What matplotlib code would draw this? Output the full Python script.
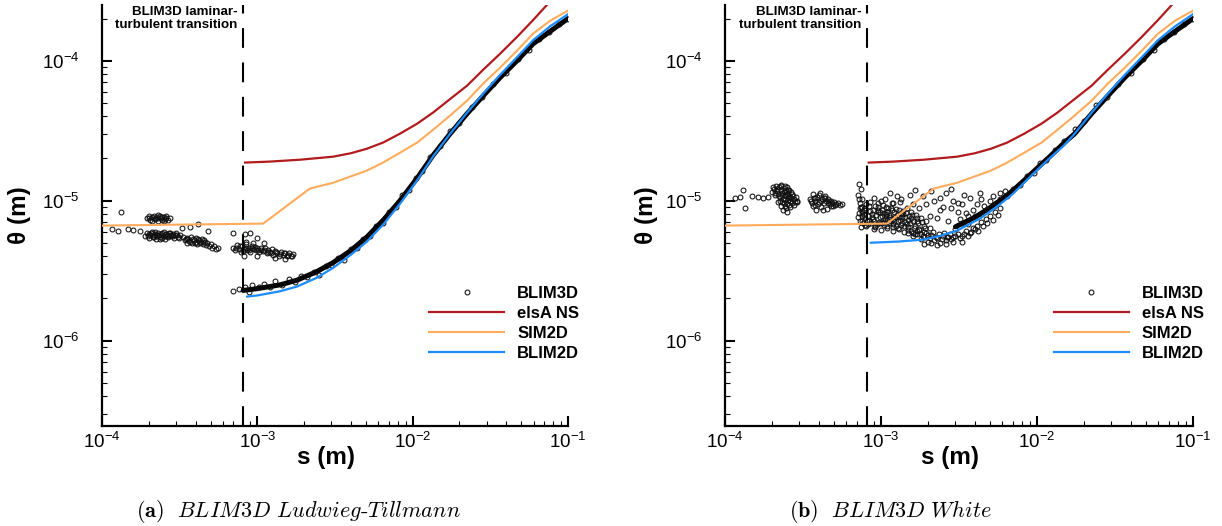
import numpy as np
import matplotlib.pyplot as plt

plt.rcParams['font.family'] = ['Liberation Sans', 'DejaVu Sans']

S_TR = 8.1e-4  # BLIM3D transition location (m)

# elsA NS and SIM2D (same in both panels)
elsa_s = [8.34e-4, 1.2e-3, 1.88e-3, 3.07e-3, 4.0e-3, 5.08e-3, 6.45e-3, 8.29e-3, 1.07e-2, 1.35e-2,
          1.69e-2, 2.24e-2, 2.84e-2, 3.65e-2, 4.7e-2, 5.96e-2, 7.33e-2]
elsa_t = [1.87e-5, 1.9e-5, 1.96e-5, 2.06e-5, 2.18e-5, 2.35e-5, 2.6e-5, 3.01e-5, 3.55e-5, 4.25e-5,
          5.18e-5, 6.63e-5, 8.6e-5, 1.12e-4, 1.48e-4, 1.95e-4, 2.51e-4]
sim2d_s = [1e-4, 1.09e-3, 2.18e-3, 3.07e-3, 5.08e-3, 6.45e-3, 8.29e-3, 1.07e-2, 1.35e-2,
           1.74e-2, 2.24e-2, 2.84e-2, 3.65e-2, 4.7e-2, 5.96e-2, 7.67e-2, 1e-1]
sim2d_t = [6.63e-6, 6.85e-6, 1.22e-5, 1.34e-5, 1.64e-5, 1.87e-5, 2.2e-5, 2.6e-5, 3.2e-5,
           4.05e-5, 5.18e-5, 6.85e-5, 8.9e-5, 1.18e-4, 1.56e-4, 1.93e-4, 2.28e-4]

# BLIM2D
blim2d_a_s = [8.6e-4, 1.0e-3, 1.4e-3, 1.8e-3, 2.4e-3, 3.07e-3, 4.0e-3, 5.08e-3, 6.5e-3, 8.29e-3,
              1.07e-2, 1.35e-2, 1.74e-2, 2.24e-2, 2.84e-2, 3.65e-2, 4.7e-2, 5.96e-2, 7.67e-2, 1e-1]
blim2d_a_t = [2.06e-6, 2.1e-6, 2.25e-6, 2.43e-6, 2.8e-6, 3.3e-6, 4.1e-6, 5.1e-6, 6.8e-6, 9.5e-6,
              1.4e-5, 2.06e-5, 3.0e-5, 4.25e-5, 5.8e-5, 7.9e-5, 1.06e-4, 1.4e-4, 1.76e-4, 2.15e-4]
blim2d_b_s = [8.6e-4, 1.3e-3, 1.86e-3, 2.4e-3, 3.07e-3, 4.31e-3, 5.5e-3, 7.02e-3, 9.42e-3, 1.2e-2,
              1.5e-2, 1.74e-2, 2.24e-2, 2.84e-2, 3.65e-2, 4.7e-2, 5.96e-2, 7.67e-2, 1e-1]
blim2d_b_t = [5.0e-6, 5.1e-6, 5.26e-6, 5.6e-6, 6.1e-6, 7.44e-6, 9.0e-6, 1.12e-5, 1.55e-5, 2.0e-5,
              2.5e-5, 3.0e-5, 4.25e-5, 5.8e-5, 7.9e-5, 1.06e-4, 1.4e-4, 1.76e-4, 2.15e-4]

# BLIM3D turbulent branch (dense part)
band_a_s = [8.1e-4, 1.0e-3, 1.4e-3, 1.8e-3, 2.4e-3, 3.07e-3, 4.0e-3, 5.08e-3, 6.5e-3, 8.29e-3,
            1.07e-2, 1.35e-2, 1.74e-2, 2.24e-2, 2.84e-2, 3.65e-2, 4.7e-2, 5.96e-2, 7.67e-2, 1e-1]
band_a_t = [2.28e-6, 2.35e-6, 2.5e-6, 2.7e-6, 3.1e-6, 3.6e-6, 4.4e-6, 5.5e-6, 7.3e-6, 1.0e-5,
            1.45e-5, 2.1e-5, 3.0e-5, 4.18e-5, 5.6e-5, 7.56e-5, 1.0e-4, 1.32e-4, 1.62e-4, 2.0e-4]
band_b_s = [3.0e-3, 4.0e-3, 5.0e-3, 6.0e-3, 7.0e-3, 8.3e-3, 1.0e-2, 1.2e-2, 1.5e-2, 1.74e-2,
            2.24e-2, 2.84e-2, 3.65e-2, 4.7e-2, 5.96e-2, 7.67e-2, 1e-1]
band_b_t = [6.5e-6, 7.6e-6, 8.9e-6, 1.03e-5, 1.18e-5, 1.4e-5, 1.7e-5, 2.05e-5, 2.6e-5, 3.0e-5,
            4.18e-5, 5.6e-5, 7.56e-5, 1.0e-4, 1.32e-4, 1.62e-4, 2.0e-4]

# BLIM3D scattered points, (s [1e-4 m], theta [1e-6 m])
pts_a = [
    # laminar, sparse
    (1.16, 6.3), (1.27, 6.1), (1.33, 8.3), (1.47, 6.3), (1.58, 6.2), (1.76, 6.1),
    # upper laminar cluster
    (1.95, 7.5), (2.0, 7.7), (2.05, 7.3), (2.1, 7.6), (2.15, 7.8), (2.2, 7.4), (2.25, 7.6),
    (2.3, 7.2), (2.35, 7.7), (2.4, 7.5), (2.45, 7.3), (2.5, 7.6), (2.55, 7.4), (2.6, 7.7),
    (2.65, 7.3), (2.72, 7.5), (2.1, 7.2), (2.3, 7.9), (2.5, 7.1), (2.02, 7.45), (2.18, 7.55),
    (2.28, 7.45), (2.42, 7.65), (2.58, 7.5),
    # lower laminar cluster
    (1.9, 5.6), (1.95, 5.9), (2.0, 5.4), (2.05, 5.7), (2.1, 6.0), (2.12, 5.5), (2.18, 5.8),
    (2.22, 5.3), (2.27, 5.65), (2.3, 5.9), (2.35, 5.5), (2.4, 5.75), (2.45, 5.4), (2.5, 5.95),
    (2.55, 5.6), (2.6, 5.8), (2.65, 5.45), (2.7, 5.7), (2.75, 5.9), (2.8, 5.55), (2.85, 5.75),
    (2.9, 5.4), (2.95, 5.65), (3.0, 5.85), (3.1, 5.5), (3.2, 5.7), (3.3, 5.5), (2.0, 5.75),
    (2.25, 5.55), (2.55, 5.3), (1.98, 5.55), (2.08, 5.85), (2.15, 5.45), (2.2, 5.95),
    (2.32, 5.7), (2.38, 5.35), (2.43, 5.9), (2.48, 5.55), (2.62, 5.6), (2.68, 5.9), (2.78, 5.7),
    (2.88, 5.55), (3.05, 5.65), (3.15, 5.4), (2.15, 5.65), (2.58, 5.75),
    # third laminar cluster and tail
    (3.4, 5.2), (3.5, 5.4), (3.55, 5.0), (3.6, 5.3), (3.7, 5.1), (3.75, 5.45), (3.8, 4.95),
    (3.9, 5.25), (4.0, 5.1), (4.05, 5.4), (4.1, 4.9), (4.2, 5.2), (4.3, 5.05), (4.4, 5.3),
    (4.5, 4.9), (4.6, 5.1), (4.7, 4.8), (4.85, 4.7), (5.0, 4.9), (5.1, 4.6), (5.25, 4.75),
    (5.4, 4.5), (5.6, 4.6), (3.45, 5.3), (3.65, 5.15), (3.85, 5.35), (3.95, 5.0), (4.15, 5.3),
    (4.25, 4.95), (4.45, 5.1), (4.55, 5.25), (4.75, 5.0),
    # scattered
    (3.27, 6.4), (3.69, 6.5), (4.15, 6.8), (4.8, 6.1), (6.98, 5.9), (8.3, 5.8), (8.97, 5.9),
    (9.9, 5.4),
    # cluster around transition
    (7.0, 4.6), (7.2, 4.4), (7.4, 4.8), (7.6, 4.5), (7.8, 4.3), (8.0, 4.7), (8.2, 4.5),
    (8.4, 4.9), (8.6, 4.4), (8.8, 4.6), (9.0, 4.3), (9.2, 4.7), (9.5, 4.5), (9.8, 4.4),
    (10.0, 4.6), (10.3, 4.3), (10.6, 4.55), (10.9, 4.35), (11.2, 4.6), (11.5, 4.2),
    (11.8, 4.45), (12.1, 4.3), (12.4, 4.5), (12.7, 4.1), (13.0, 4.35), (13.4, 4.2),
    (13.8, 4.0), (14.2, 4.3), (14.6, 4.1), (15.0, 4.25), (15.5, 4.0), (16.0, 4.2),
    (16.5, 4.05), (17.0, 4.15), (8.5, 5.1), (9.4, 5.0), (11.0, 4.95), (8.2, 4.0),
    (10.0, 4.05), (13.0, 3.9), (15.0, 3.85), (7.3, 4.6), (7.7, 4.7), (8.1, 4.35), (8.5, 4.6),
    (8.9, 4.45), (9.3, 4.55), (9.7, 4.65), (10.1, 4.4), (10.5, 4.4), (11.0, 4.45),
    (11.7, 4.3), (12.3, 4.2), (13.2, 4.3), (14.0, 4.15), (14.8, 4.2), (15.8, 4.1), (16.8, 4.0),
    # turbulent branch
    (7.0, 2.25), (7.6, 2.32), (8.3, 2.42), (8.8, 2.22), (9.3, 2.5), (10.2, 2.4), (11.0, 2.55),
    (12.0, 2.4), (13.0, 2.65), (14.5, 2.5), (16.0, 2.75), (17.5, 2.6), (19.0, 2.9),
    (21.0, 2.85), (23.0, 3.1), (25.0, 2.95), (27.5, 3.4), (30.0, 3.45), (33.0, 3.9),
    (36.0, 3.75), (40.0, 4.5), (44.0, 4.6), (48.0, 5.3), (53.0, 5.6), (58.0, 6.6), (64.0, 6.9),
    (70.0, 8.3), (78.0, 9.0), (86.0, 10.9), (95.0, 11.9), (105.0, 14.6), (115.0, 16.2),
    (130.0, 20.6), (150.0, 24.5), (175.0, 31.5), (200.0, 36.0), (240.0, 46.5), (280.0, 55.0),
    (330.0, 68.0), (400.0, 81.0), (480.0, 102.0), (560.0, 120.0), (650.0, 142.0),
    (760.0, 161.0), (880.0, 182.0), (1000.0, 200.0),
]

pts_b = [
    # laminar, sparse
    (1.16, 10.5), (1.25, 10.6), (1.3, 12.0), (1.34, 8.9), (1.49, 10.8), (1.63, 10.6),
    (1.75, 10.5), (1.89, 10.6),
    # big laminar cluster
    (2.0, 11.5), (2.05, 12.2), (2.08, 10.9), (2.12, 12.8), (2.15, 11.8), (2.18, 11.2),
    (2.22, 12.5), (2.25, 10.6), (2.28, 11.9), (2.3, 12.9), (2.33, 11.4), (2.36, 10.3),
    (2.4, 12.3), (2.43, 11.0), (2.46, 11.7), (2.5, 12.6), (2.52, 10.5), (2.55, 11.3),
    (2.58, 12.0), (2.6, 9.9), (2.2, 9.7), (2.3, 9.2), (2.4, 9.6), (2.45, 8.8), (2.5, 9.4),
    (2.55, 10.1), (2.62, 9.0), (2.65, 10.4), (2.7, 9.6), (2.75, 10.2), (2.8, 9.8),
    (2.85, 10.6), (2.9, 10.0), (2.35, 8.5), (2.5, 8.3), (2.25, 10.0), (2.68, 11.1),
    (2.02, 12.6), (2.1, 11.4), (2.17, 12.1), (2.21, 10.8), (2.27, 12.7), (2.32, 10.9),
    (2.38, 11.6), (2.42, 12.7), (2.48, 11.1), (2.53, 11.9), (2.57, 10.8), (2.63, 11.5),
    (2.32, 9.8), (2.42, 9.1), (2.58, 9.3), (2.72, 10.7), (2.78, 9.3), (2.88, 9.7), (2.44, 10.1),
    (2.6, 10.6),
    # second laminar cluster
    (3.5, 10.2), (3.6, 9.6), (3.65, 11.1), (3.75, 10.0), (3.8, 9.3), (3.9, 10.6), (4.0, 9.8),
    (4.05, 11.3), (4.1, 9.0), (4.2, 10.3), (4.3, 9.6), (4.35, 10.8), (4.45, 9.9), (4.5, 8.7),
    (4.6, 10.2), (4.7, 9.5), (4.8, 10.0), (4.9, 9.2), (5.0, 9.7), (5.15, 9.4), (5.3, 9.6),
    (5.45, 9.3), (5.6, 9.5), (3.85, 8.6), (4.25, 8.5), (3.7, 10.5), (4.4, 10.4),
    (3.55, 9.9), (3.8, 10.4), (3.95, 9.5), (4.15, 10.0), (4.3, 10.4), (4.55, 9.6), (4.65, 9.9),
    (4.85, 9.6), (5.05, 9.3), (3.68, 9.2), (4.0, 10.9), (4.75, 9.1),
    # column at transition
    (7.2, 13.2), (7.4, 12.2), (7.1, 11.0), (7.5, 10.3), (7.3, 9.6), (7.6, 9.0), (7.8, 8.5),
    (7.2, 8.2), (7.5, 7.8), (7.9, 7.5), (7.3, 7.2), (7.7, 6.9), (8.0, 6.6), (7.4, 6.5),
    (8.2, 7.8), (8.4, 7.2), (8.5, 8.4), (8.0, 9.4), (8.3, 6.8),
    (7.2, 10.2), (7.4, 9.0), (7.6, 8.4), (7.1, 7.6), (7.8, 7.9), (7.5, 7.1), (7.9, 6.7),
    # dense cloud after transition
    (8.8, 8.0), (9.0, 7.2), (9.2, 9.2), (9.4, 6.8), (9.6, 8.5), (9.8, 7.6), (10.0, 10.0),
    (10.2, 6.9), (10.4, 8.2), (10.6, 7.4), (10.8, 9.0), (11.0, 6.6), (11.2, 7.9),
    (11.4, 11.4), (11.6, 7.1), (11.8, 8.6), (12.0, 6.8), (12.3, 7.6), (12.6, 10.8),
    (12.9, 7.2), (13.2, 9.8), (13.5, 6.7), (13.8, 8.0), (14.2, 7.0), (14.6, 8.8), (15.0, 6.5),
    (15.5, 7.5), (16.0, 9.5), (16.5, 6.6), (17.0, 7.1),
    (7.3, 8.8), (7.6, 8.1), (7.9, 8.9), (8.1, 7.2), (8.4, 9.1), (8.7, 7.6), (8.9, 8.6),
    (9.1, 6.5), (9.3, 7.9), (9.5, 9.0), (9.7, 7.0), (9.9, 8.3), (10.1, 7.7), (10.3, 9.3),
    (10.5, 6.7), (10.7, 8.0), (10.9, 7.3), (11.1, 8.8), (11.3, 6.9), (11.5, 7.6), (11.7, 9.6),
    (11.9, 7.4), (12.1, 8.3), (12.4, 6.6), (12.7, 7.9), (13.0, 8.6), (13.3, 7.3), (13.6, 6.9),
    (13.9, 8.4), (14.3, 7.6), (14.7, 6.8), (15.1, 7.8), (15.6, 8.3), (16.1, 7.2), (16.7, 7.9),
    (17.3, 6.9), (18.0, 7.5), (18.8, 6.6), (19.5, 7.1), (20.5, 6.4),
    (8.6, 6.9), (8.9, 7.4), (9.2, 6.6), (9.5, 8.3), (9.8, 6.9), (10.1, 8.6), (10.4, 7.0),
    (10.7, 7.7), (11.0, 8.3), (11.3, 7.4), (11.6, 8.9), (11.9, 6.5), (12.2, 7.1), (12.5, 8.7),
    (12.8, 6.4), (13.1, 7.6), (13.4, 8.2), (13.7, 7.6), (14.0, 6.6), (14.4, 8.1), (14.8, 7.3),
    (15.3, 6.9), (15.8, 7.9), (16.3, 6.4), (16.9, 7.5), (17.6, 6.3), (18.4, 7.0), (19.2, 6.4),
    (8.5, 9.8), (9.0, 10.4), (9.6, 9.6), (10.6, 10.2), (12.0, 9.6), (13.5, 10.3),
    (9.0, 6.3), (10.0, 6.2), (11.0, 6.4), (12.0, 6.1), (13.0, 6.3), (14.0, 6.0), (15.0, 6.2),
    (16.0, 5.9), (17.0, 6.1), (18.0, 5.8), (19.0, 6.0), (20.0, 5.7),
    # lower tail
    (15.0, 5.9), (16.0, 5.6), (17.0, 5.8), (18.0, 5.3), (19.0, 5.5), (20.0, 5.1), (21.0, 5.7),
    (22.0, 5.2), (23.0, 5.4), (24.0, 5.0), (25.0, 5.6), (26.0, 5.2), (27.0, 5.5), (28.0, 5.3),
    (30.0, 5.6), (32.0, 5.4), (34.0, 5.8), (36.0, 5.6), (38.0, 6.0), (40.0, 6.3), (42.0, 6.1),
    (45.0, 6.6), (48.0, 6.9), (52.0, 7.3), (56.0, 7.9),
    (15.5, 6.1), (16.5, 5.8), (17.5, 6.2), (18.5, 5.6), (19.5, 5.9), (20.5, 5.4), (21.5, 6.0),
    (22.5, 5.5), (23.5, 5.8), (24.5, 5.3), (25.5, 5.9), (26.5, 5.5), (27.5, 5.8), (29.0, 5.5),
    (31.0, 5.8), (33.0, 5.6), (35.0, 6.1), (37.0, 5.9), (39.0, 6.4), (41.0, 6.6), (44.0, 7.0),
    (47.0, 7.4), (50.0, 7.7), (54.0, 8.3), (58.0, 8.9),
    (19.0, 4.9), (21.0, 5.0), (23.0, 4.8), (26.0, 4.9), (29.0, 5.1), (33.0, 5.1),
    # upper scattered
    (15.3, 11.0), (16.5, 12.0), (17.5, 8.8), (18.5, 10.8), (19.5, 9.5), (20.5, 7.8),
    (22.0, 9.9), (23.0, 7.5), (24.0, 8.6), (25.0, 9.0), (26.0, 11.3), (27.0, 7.2), (28.0, 8.8),
    (29.0, 10.0), (31.0, 8.3), (32.0, 7.4), (33.0, 9.4), (35.0, 8.1), (37.0, 10.5),
    (39.0, 8.6), (43.0, 11.4), (46.0, 9.2), (50.0, 9.9), (58.0, 11.3),
    (21.0, 11.8), (24.0, 10.5), (28.0, 12.2), (31.0, 9.6), (34.0, 10.9), (36.0, 7.8),
    (41.0, 9.4), (44.0, 10.2), (48.0, 8.5), (52.0, 10.8), (55.0, 9.6), (62.0, 11.8),
    # turbulent branch
    (30.0, 6.3), (33.0, 6.9), (36.0, 6.8), (40.0, 7.8), (44.0, 8.0), (48.0, 8.7), (53.0, 9.2),
    (58.0, 10.2), (64.0, 10.7), (70.0, 12.1), (78.0, 12.9), (86.0, 14.9), (95.0, 15.8),
    (105.0, 18.5), (115.0, 19.5), (130.0, 23.0), (150.0, 26.5), (175.0, 32.5), (200.0, 37.0),
    (240.0, 48.0), (280.0, 55.0), (330.0, 68.0), (400.0, 81.0), (480.0, 102.0),
    (560.0, 120.0), (650.0, 142.0), (760.0, 161.0), (880.0, 182.0), (1000.0, 200.0),
]

RED, ORANGE, BLUE = '#b21b1e', '#ffab5c', '#1a8cff'


def draw_panel(ax, pts, band_s, band_t, b2_s, b2_t, ylabel_x):
    p = np.array(pts)
    s3, t3 = p[:, 0] * 1e-4, p[:, 1] * 1e-6
    ax.set_xscale('log')
    ax.set_yscale('log')
    ax.set_xlim(1e-4, 1e-1)
    ax.set_ylim(2.45e-7, 2.5e-4)

    ax.plot(band_s, band_t, color='black', lw=3.6, solid_capstyle='round', zorder=2)
    ax.plot(s3, t3, ls='none', marker='o', ms=3.5, mfc='none', mec='#111111', mew=0.75,
            label='BLIM3D', zorder=2)
    ax.plot(elsa_s, elsa_t, color=RED, lw=1.6, label='elsA NS', zorder=3)
    ax.plot(sim2d_s, sim2d_t, color=ORANGE, lw=1.5, label='SIM2D', zorder=3)
    ax.plot(b2_s, b2_t, color=BLUE, lw=1.6, label='BLIM2D', zorder=3)

    ax.axvline(S_TR, color='black', lw=1.5, dashes=(9.5, 7), zorder=4)
    ax.annotate('BLIM3D laminar-\nturbulent transition', xy=(S_TR, 1.0),
                xycoords=('data', 'axes fraction'), xytext=(-4, -1.0),
                textcoords='offset points', ha='right', va='top', ma='right',
                fontsize=9.6, fontweight='bold', linespacing=1.05)

    for side in ('top', 'right'):
        ax.spines[side].set_visible(False)
    for side in ('left', 'bottom'):
        ax.spines[side].set_linewidth(1.6)
    ax.tick_params(which='both', direction='in', top=False, right=False, labelsize=13.5)
    ax.tick_params(which='major', length=7, width=1.5)
    ax.tick_params(which='minor', length=3.5, width=0.8)
    ax.tick_params(axis='x', pad=4)
    ax.tick_params(axis='y', pad=16)

    ax.set_xlabel('s (m)', fontsize=17.5, fontweight='bold')
    ax.xaxis.set_label_coords(0.48, -0.048)
    ax.set_ylabel('θ (m)', fontsize=17.5, fontweight='bold')
    ax.yaxis.label.set_va('center')
    ax.yaxis.set_label_coords(ylabel_x, 0.5)

    ax.legend(loc='upper left', bbox_to_anchor=(0.702, 0.333), frameon=False,
              borderpad=0, borderaxespad=0, handlelength=4.5, handletextpad=0.78,
              labelspacing=0.3, numpoints=1, prop={'weight': 'bold', 'size': 12})


fig = plt.figure(figsize=(12.22, 5.26), dpi=100)
ax1 = fig.add_axes([102 / 1222, 1 - 426 / 526, 466 / 1222, 421 / 526])
ax2 = fig.add_axes([725 / 1222, 1 - 426 / 526, 468 / 1222, 421 / 526])

draw_panel(ax1, pts_a, band_a_s, band_a_t, blim2d_a_s, blim2d_a_t, -0.176)
draw_panel(ax2, pts_b, band_b_s, band_b_t, blim2d_b_s, blim2d_b_t, -0.167)

fig.text(0.244, 0.028, r'$\mathbf{(a)}\ \ \mathit{BLIM3D\ Ludwieg}$-$\mathit{Tillmann}$',
         fontsize=16, family='cmr10', math_fontfamily='cm', ha='center', va='center')
fig.text(0.729, 0.028, r'$\mathbf{(b)}\ \ \mathit{BLIM3D\ White}$',
         fontsize=16, family='cmr10', math_fontfamily='cm', ha='center', va='center')

fig.savefig('out.png', dpi=100)
